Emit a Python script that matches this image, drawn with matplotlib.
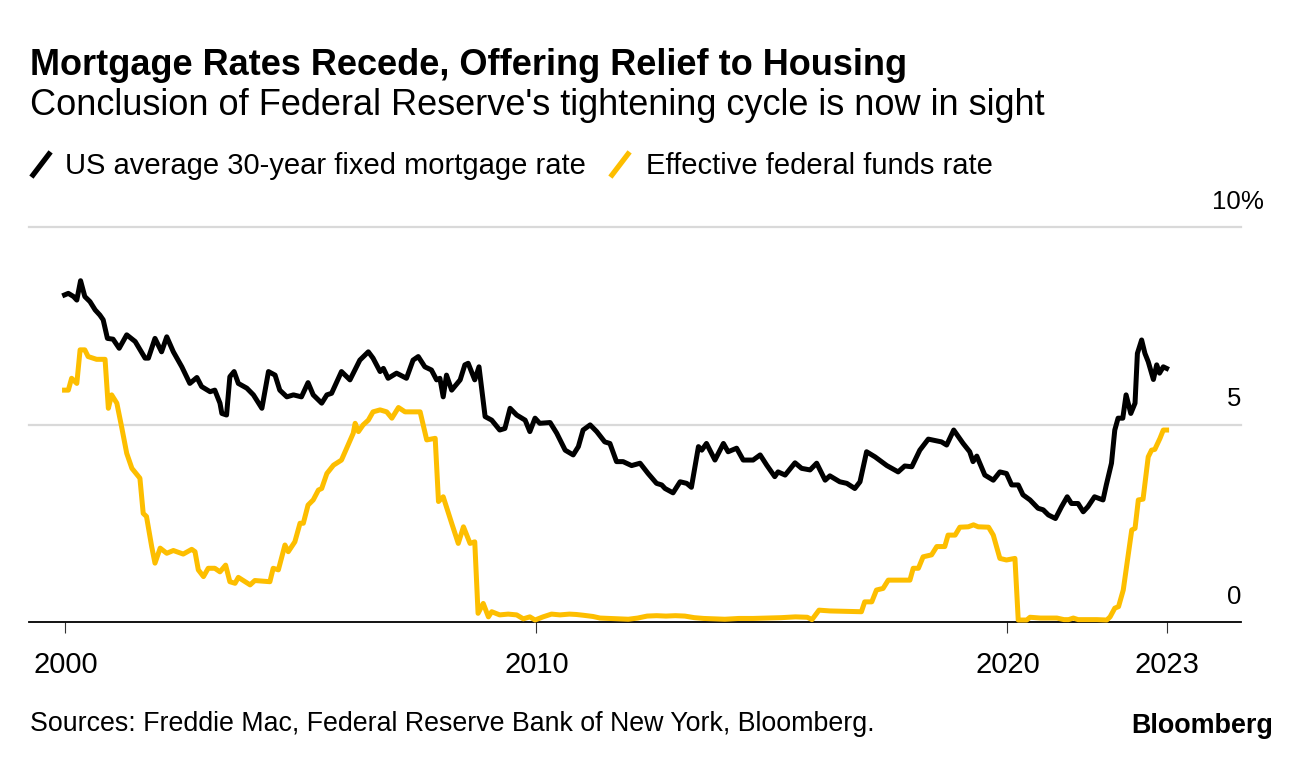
import numpy as np
import matplotlib.pyplot as plt
from matplotlib.lines import Line2D
from matplotlib import transforms

# Data (decimal year, percent)

mort_year = [1999.98, 2000.06, 2000.17, 2000.24, 2000.32, 2000.41, 2000.52, 2000.63,
             2000.73, 2000.80, 2000.89, 2001.01, 2001.14, 2001.30, 2001.48, 2001.69,
             2001.76, 2001.90, 2002.04, 2002.15, 2002.29, 2002.47, 2002.64, 2002.79,
             2002.89, 2003.07, 2003.17, 2003.28, 2003.32, 2003.42, 2003.49, 2003.58,
             2003.67, 2003.85, 2003.99, 2004.17, 2004.31, 2004.45, 2004.55, 2004.70,
             2004.84, 2005.01, 2005.15, 2005.26, 2005.44, 2005.55, 2005.65, 2005.86,
             2006.04, 2006.25, 2006.43, 2006.53, 2006.68, 2006.75, 2006.85, 2007.03,
             2007.24, 2007.38, 2007.49, 2007.63, 2007.77, 2007.88, 2007.95, 2008.02,
             2008.09, 2008.20, 2008.38, 2008.48, 2008.55, 2008.69, 2008.78, 2008.91,
             2009.05, 2009.22, 2009.33, 2009.44, 2009.58, 2009.76, 2009.86, 2009.97,
             2010.07, 2010.29, 2010.43, 2010.61, 2010.78, 2010.89, 2010.99, 2011.14,
             2011.28, 2011.45, 2011.56, 2011.70, 2011.84, 2012.02, 2012.20, 2012.37,
             2012.55, 2012.66, 2012.73, 2012.90, 2013.05, 2013.19, 2013.29, 2013.44,
             2013.51, 2013.61, 2013.79, 2013.97, 2014.07, 2014.25, 2014.39, 2014.60,
             2014.75, 2014.89, 2015.06, 2015.13, 2015.28, 2015.49, 2015.63, 2015.81,
             2015.95, 2016.13, 2016.23, 2016.44, 2016.59, 2016.76, 2016.87, 2017.01,
             2017.19, 2017.44, 2017.68, 2017.82, 2017.97, 2018.14, 2018.32, 2018.60,
             2018.71, 2018.86, 2019.06, 2019.20, 2019.27, 2019.35, 2019.52, 2019.70,
             2019.84, 2019.98, 2020.09, 2020.23, 2020.33, 2020.48, 2020.65, 2020.76,
             2020.87, 2021.02, 2021.15, 2021.27, 2021.36, 2021.50, 2021.61, 2021.71,
             2021.85, 2022.03, 2022.10, 2022.21, 2022.28, 2022.35, 2022.45, 2022.52,
             2022.62, 2022.71, 2022.76, 2022.85, 2022.92, 2022.99, 2023.10, 2023.17,
             2023.23, 2023.31, 2023.38]
mort_rate = [8.28, 8.32, 8.24, 8.15, 8.64, 8.24, 8.11, 7.90,
             7.77, 7.65, 7.18, 7.16, 6.93, 7.27, 7.10, 6.68,
             6.68, 7.18, 6.84, 7.22, 6.84, 6.46, 6.04, 6.19,
             5.96, 5.83, 5.87, 5.54, 5.28, 5.24, 6.21, 6.34,
             6.04, 5.92, 5.75, 5.41, 6.34, 6.25, 5.87, 5.70,
             5.75, 5.70, 6.06, 5.75, 5.54, 5.75, 5.79, 6.34,
             6.13, 6.63, 6.84, 6.68, 6.34, 6.42, 6.17, 6.30,
             6.17, 6.63, 6.72, 6.46, 6.38, 6.13, 6.17, 5.70,
             6.25, 5.87, 6.13, 6.51, 6.55, 6.13, 6.46, 5.20,
             5.11, 4.86, 4.90, 5.41, 5.24, 5.11, 4.82, 5.16,
             5.03, 5.05, 4.78, 4.35, 4.23, 4.44, 4.86, 4.99,
             4.82, 4.56, 4.52, 4.06, 4.06, 3.96, 4.02, 3.76,
             3.51, 3.47, 3.38, 3.27, 3.55, 3.51, 3.41, 4.44,
             4.35, 4.52, 4.10, 4.52, 4.31, 4.40, 4.10, 4.10,
             4.23, 3.97, 3.68, 3.80, 3.72, 4.03, 3.89, 3.85,
             4.02, 3.59, 3.70, 3.55, 3.51, 3.38, 3.55, 4.31,
             4.18, 3.96, 3.80, 3.95, 3.93, 4.35, 4.63, 4.56,
             4.48, 4.86, 4.52, 4.31, 4.06, 4.20, 3.72, 3.59,
             3.80, 3.76, 3.47, 3.47, 3.22, 3.09, 2.88, 2.84,
             2.71, 2.62, 2.92, 3.17, 3.00, 3.00, 2.79, 2.92,
             3.17, 3.09, 3.47, 4.02, 4.86, 5.16, 5.16, 5.75,
             5.28, 5.54, 6.80, 7.14, 6.80, 6.59, 6.14, 6.51,
             6.30, 6.46, 6.42]

fed_year = [1999.98, 2000.06, 2000.13, 2000.24, 2000.31, 2000.41, 2000.48, 2000.66,
            2000.84, 2000.91, 2000.98, 2001.09, 2001.19, 2001.30, 2001.41, 2001.58,
            2001.65, 2001.72, 2001.83, 2001.90, 2002.01, 2002.15, 2002.29, 2002.50,
            2002.68, 2002.75, 2002.82, 2002.93, 2003.03, 2003.17, 2003.28, 2003.40,
            2003.49, 2003.60, 2003.67, 2003.92, 2004.02, 2004.34, 2004.41, 2004.52,
            2004.66, 2004.73, 2004.87, 2004.98, 2005.05, 2005.15, 2005.26, 2005.37,
            2005.44, 2005.55, 2005.69, 2005.86, 2006.00, 2006.11, 2006.15, 2006.22,
            2006.32, 2006.43, 2006.53, 2006.68, 2006.82, 2006.93, 2007.07, 2007.21,
            2007.53, 2007.67, 2007.85, 2007.92, 2008.02, 2008.20, 2008.34, 2008.45,
            2008.59, 2008.69, 2008.76, 2008.87, 2008.98, 2009.05, 2009.22, 2009.40,
            2009.58, 2009.72, 2009.86, 2009.97, 2010.14, 2010.32, 2010.50, 2010.70,
            2010.85, 2011.00, 2011.20, 2011.35, 2011.55, 2011.75, 2011.95, 2012.15,
            2012.35, 2012.55, 2012.75, 2012.95, 2013.15, 2013.35, 2013.55, 2013.80,
            2014.00, 2014.30, 2014.60, 2014.90, 2015.20, 2015.50, 2015.75, 2015.85,
            2016.00, 2016.23, 2016.90, 2016.97, 2017.12, 2017.22, 2017.36, 2017.47,
            2017.93, 2018.00, 2018.11, 2018.21, 2018.39, 2018.50, 2018.67, 2018.74,
            2018.89, 2018.99, 2019.17, 2019.28, 2019.38, 2019.60, 2019.70, 2019.84,
            2019.98, 2020.16, 2020.23, 2020.41, 2020.48, 2020.70, 2020.90, 2021.05,
            2021.20, 2021.30, 2021.40, 2021.50, 2021.70, 2021.90, 2022.11, 2022.18,
            2022.28, 2022.36, 2022.46, 2022.57, 2022.64, 2022.71, 2022.78, 2022.88,
            2022.99, 2023.06, 2023.13, 2023.24, 2023.31, 2023.38]
fed_rate = [5.87, 5.87, 6.17, 6.04, 6.89, 6.89, 6.72, 6.65,
            6.65, 5.41, 5.75, 5.54, 4.95, 4.27, 3.89, 3.64,
            2.75, 2.67, 1.91, 1.49, 1.87, 1.74, 1.81, 1.72,
            1.84, 1.78, 1.32, 1.15, 1.36, 1.36, 1.27, 1.44,
            1.02, 0.98, 1.13, 0.94, 1.05, 1.02, 1.36, 1.32,
            1.95, 1.78, 2.03, 2.50, 2.50, 2.96, 3.09, 3.34,
            3.38, 3.76, 3.97, 4.10, 4.48, 4.78, 5.03, 4.82,
            4.99, 5.11, 5.32, 5.37, 5.32, 5.16, 5.43, 5.32,
            5.32, 4.61, 4.65, 3.05, 3.17, 2.50, 1.99, 2.41,
            1.99, 2.03, 0.22, 0.47, 0.13, 0.26, 0.18, 0.20,
            0.18, 0.08, 0.13, 0.05, 0.13, 0.20, 0.18, 0.20,
            0.19, 0.17, 0.14, 0.10, 0.09, 0.08, 0.07, 0.10,
            0.15, 0.16, 0.15, 0.16, 0.15, 0.11, 0.09, 0.08,
            0.07, 0.09, 0.09, 0.10, 0.11, 0.13, 0.12, 0.06,
            0.30, 0.28, 0.26, 0.51, 0.51, 0.81, 0.85, 1.06,
            1.06, 1.36, 1.36, 1.65, 1.70, 1.91, 1.91, 2.20,
            2.20, 2.40, 2.41, 2.46, 2.41, 2.40, 2.20, 1.61,
            1.57, 1.61, 0.05, 0.05, 0.12, 0.10, 0.10, 0.10,
            0.06, 0.06, 0.10, 0.06, 0.06, 0.06, 0.05, 0.13,
            0.35, 0.39, 0.81, 1.74, 2.33, 2.37, 3.09, 3.11,
            4.18, 4.35, 4.37, 4.65, 4.86, 4.86]

tick_years = [2000, 2010, 2020, 2023.38]
tick_labels = ['2000', '2010', '2020', '2023']
grid_levels = [5, 10]
y_labels = ['0', '5', '10']

BLACK = '#000000'
YELLOW = '#FDBE00'
W, H = 1296, 760

plt.rcParams['font.family'] = ['Liberation Sans', 'DejaVu Sans']


def fx(x):
    return x / W


def fy(y):
    return 1 - y / H


fig = plt.figure(figsize=(W / 100, H / 100), dpi=100)
ax = fig.add_axes([fx(29), fy(622), fx(1241) - fx(29), fy(227) - fy(622)])

ax.set_xlim(1999.225, 2024.96)
ax.set_ylim(0, 10)

for g in grid_levels:
    ax.axhline(g, color='#D9D9D9', lw=1.6, zorder=1, clip_on=False)

ax.plot(mort_year, mort_rate, color=BLACK, lw=3.6, zorder=3,
        solid_joinstyle='round', clip_on=False)
ax.plot(fed_year, fed_rate, color=YELLOW, lw=3.6, zorder=4,
        solid_joinstyle='round', clip_on=False)

for s in ['top', 'right', 'left']:
    ax.spines[s].set_visible(False)
ax.spines['bottom'].set_linewidth(1.3)
ax.spines['bottom'].set_zorder(2)
ax.set_yticks([])
ax.set_xticks(tick_years, labels=tick_labels)
ax.tick_params(axis='x', direction='out', length=8, width=0.8, pad=13,
               labelsize=21, color='#333333')

# right side value labels, sitting above their gridlines
trans = transforms.offset_copy(
    transforms.blended_transform_factory(ax.transAxes, ax.transData),
    fig=fig, x=0, y=13.2, units='points')
for v, lab in zip([0, 5, 10], y_labels):
    ax.text(1.0, v, lab, transform=trans, ha='right', va='baseline', fontsize=18.5)
ax.text(0.9995, 10, '%', transform=trans, ha='left', va='baseline', fontsize=18.5)

# titles
fig.text(fx(30), fy(75), 'Mortgage Rates Recede, Offering Relief to Housing',
         fontsize=26, fontweight='bold', va='baseline')
fig.text(fx(30), fy(115), "Conclusion of Federal Reserve's tightening cycle is now in sight",
         fontsize=26, va='baseline')

# legend
fig.add_artist(Line2D([fx(33), fx(49)], [fy(175), fy(154)], color=BLACK, lw=3.8,
                      transform=fig.transFigure))
fig.text(fx(65), fy(174), 'US average 30-year fixed mortgage rate', fontsize=21,
         va='baseline')
fig.add_artist(Line2D([fx(612), fx(628)], [fy(175), fy(154)], color=YELLOW, lw=3.8,
                      transform=fig.transFigure))
fig.text(fx(646), fy(174), 'Effective federal funds rate', fontsize=21,
         va='baseline')

# footer
fig.text(fx(30), fy(731), 'Sources: Freddie Mac, Federal Reserve Bank of New York, Bloomberg.',
         fontsize=19.3, va='baseline')
fig.text(fx(1273), fy(733), 'Bloomberg', fontsize=19.4, fontweight='bold',
         ha='right', va='baseline')

fig.savefig('out.png', dpi=100)
